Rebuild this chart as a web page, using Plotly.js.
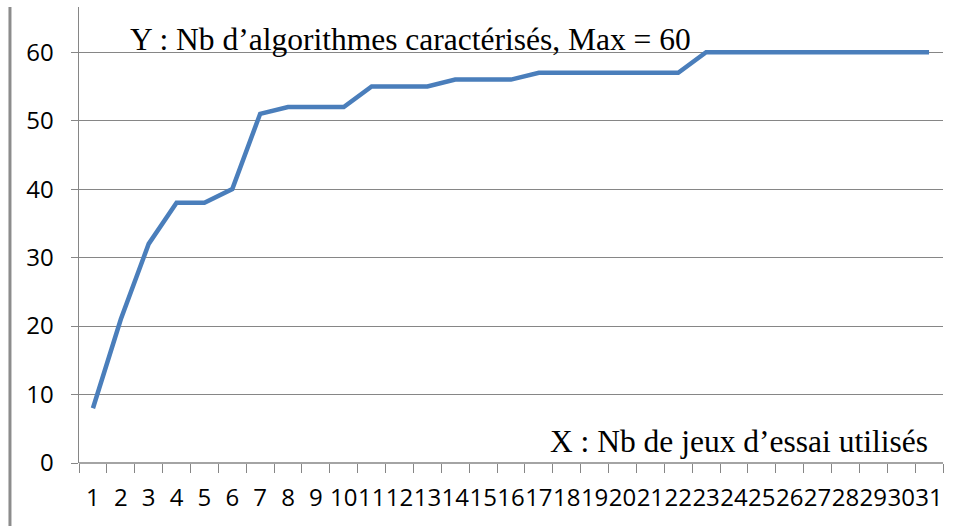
<!DOCTYPE html>
<html><head><meta charset="utf-8">
<script src="https://cdn.plot.ly/plotly-3.0.1.min.js"></script>
<style>html,body{margin:0;padding:0;background:#fff}#c{width:957px;height:526px}</style>
</head><body><div id="c"></div>
<script>
const categories = ["1","2","3","4","5","6","7","8","9","10","11","12","13","14","15","16","17","18","19","20","21","22","23","24","25","26","27","28","29","30","31"];
const values = [8,21,32,38,38,40,51,52,52,52,55,55,55,56,56,56,57,57,57,57,57,57,60,60,60,60,60,60,60,60,60];
const yTicks = [0,10,20,30,40,50,60];
const yTitle = "Y : Nb d’algorithmes caractérisés, Max = 60";
const xTitle = "X : Nb de jeux d’essai utilisés";

const trace = {x: categories, y: values, type: "scatter", mode: "lines",
  line: {color: "#4a7ebb", width: 4.5}, hoverinfo: "skip"};

const layout = {
  width: 957, height: 526,
  margin: {l: 79, r: 14, t: 7, b: 63},
  paper_bgcolor: "#fff", plot_bgcolor: "#fff",
  showlegend: false,
  font: {family: "Open Sans, sans-serif", size: 24, color: "#000"},
  xaxis: {type: "category", range: [-0.5, 30.5], tickson: "boundaries", tickangle: 0,
    tickmode: "array", tickvals: categories, ticktext: categories,
    ticks: "outside", ticklen: 9, tickcolor: "#868686", tickwidth: 1,
    showgrid: false, showline: false, zeroline: false,
    tickfont: {family: "Open Sans, sans-serif", size: 24, color: "#000"},
    ticklabelstandoff: 18, fixedrange: true},
  yaxis: {range: [0, 66.6], tickvals: yTicks, ticktext: yTicks.map(String),
    ticks: "outside", ticklen: 7, tickcolor: "#868686", tickwidth: 1,
    showgrid: true, gridcolor: "#868686", gridwidth: 1,
    zeroline: false, showline: true, linecolor: "#868686", linewidth: 1.5,
    tickfont: {family: "Open Sans, sans-serif", size: 24, color: "#000"},
    ticklabelstandoff: 12, fixedrange: true},
  shapes: [
    {type: "line", xref: "paper", yref: "paper", x0: -0.0799, x1: -0.0799, y0: 0 - 63/456, y1: 1, line: {color: "#8c8c8c", width: 3}},
    {type: "line", xref: "paper", yref: "paper", x0: 0, x1: 1, y0: 0, y1: 0, line: {color: "#868686", width: 1.5}}
  ],
  annotations: [
    {text: yTitle, xref: "paper", yref: "paper", x: 0.0567, y: 0.929, xanchor: "left", yanchor: "middle",
     showarrow: false, font: {family: "Liberation Serif, Times New Roman, serif", size: 31.5, color: "#000"}},
    {text: xTitle, xref: "paper", yref: "paper", x: 0.985, y: 0.047, xanchor: "right", yanchor: "middle",
     showarrow: false, font: {family: "Liberation Serif, Times New Roman, serif", size: 31.5, color: "#000"}}
  ]
};
Plotly.newPlot("c", [trace], layout, {staticPlot: true, displayModeBar: false});
</script></body></html>
